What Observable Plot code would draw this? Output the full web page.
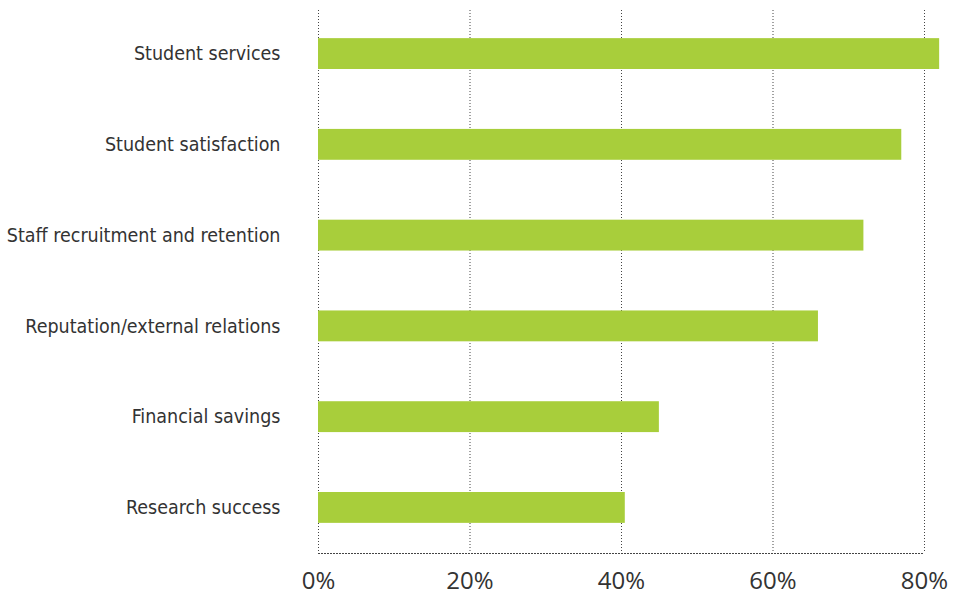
<!DOCTYPE html>
<html>
<head>
<meta charset="utf-8">
<script src="https://cdn.jsdelivr.net/npm/d3@7"></script>
<script src="https://cdn.jsdelivr.net/npm/@observablehq/plot@0.6"></script>
<style>
  html, body { margin: 0; padding: 0; background: #fff; }
  #chart svg { display: block; }
</style>
</head>
<body>
<div id="chart"></div>
<script>
// Share of respondents reporting each area of impact
const categories = [
  "Student services",
  "Student satisfaction",
  "Staff recruitment and retention",
  "Reputation/external relations",
  "Financial savings",
  "Research success"
];
const values = [82, 77, 72, 66, 45, 40.5];
const xTicks = [0, 20, 40, 60, 80];
const xTickLabels = ["0%", "20%", "40%", "60%", "80%"];

const data = categories.map((c, i) => ({category: c, value: values[i]}));

const chart = Plot.plot({
  width: 964,
  height: 592,
  marginLeft: 318,
  marginRight: 40,
  marginTop: 10,
  marginBottom: 39,
  x: {domain: [0, 80], label: null},
  y: {domain: categories, range: [10, 551], paddingInner: 0.66, paddingOuter: 0.31, round: false, label: null},
  marks: [
    // dotted vertical gridlines span the full frame height
    Plot.gridX(xTicks, {stroke: "#444", strokeOpacity: 1, strokeDasharray: "1,2"}),
    Plot.frame({anchor: "bottom", stroke: "#444", strokeDasharray: "1,2"}),
    Plot.barX(data, {x: "value", y: "category", fill: "#a8ce3b"}),
    Plot.axisX({
      ticks: xTicks,
      tickFormat: (d) => xTickLabels[xTicks.indexOf(d)],
      tickSize: 0,
      tickPadding: 18,
      fontSize: 24,
      fontFamily: "'Open Sans', sans-serif",
      fill: "#333",
      label: null
    }),
    Plot.axisY({
      tickSize: 0,
      tickPadding: 38,
      fontSize: 19.5,
      fontFamily: "'Liberation Sans Narrow', 'DejaVu Sans Condensed', 'Open Sans', sans-serif",
      fill: "#333",
      label: null
    })
  ]
});

document.getElementById("chart").appendChild(chart);
</script>
</body>
</html>
